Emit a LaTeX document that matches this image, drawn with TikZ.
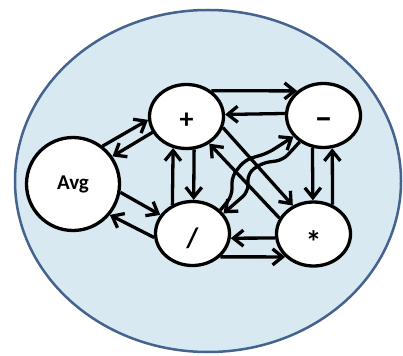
\documentclass[tikz,border=0pt]{standalone}
\usepackage{fontspec}
\setmainfont{Carlito}
\usetikzlibrary{arrows.meta,shapes.geometric}
\definecolor{bgblue}{HTML}{D8E9F2}
\definecolor{rimblue}{HTML}{44638F}
\begin{document}
\begin{tikzpicture}[x=1pt,y=-1pt,
  op/.style={ellipse,draw=black,fill=white,line width=3.3pt,inner sep=0pt,
    minimum width=74pt,minimum height=64pt,text depth=0pt,
    font=\fontsize{28}{28}\selectfont\bfseries},
  link/.style={line width=3.3pt,-{Straight Barb[length=10pt,width=16pt]}},
  wiggle/.style={link,rounded corners=7pt}]
\useasboundingbox (0,0) rectangle (403,355);
\fill[white] (0,0) rectangle (403,355);
\draw[draw=rimblue,fill=bgblue,line width=2.5pt] (208,181) ellipse [x radius=193, y radius=171];

\node[op,minimum width=93pt,minimum height=93pt,text depth=,text height=,
  font=\fontsize{21}{21}\selectfont\bfseries] (avg) at (73,184) {Avg};
\node[op,text height=25pt] (plus) at (186.5,116.5) {+};
\node[op,text height=28pt,font=\fontsize{36}{36}\selectfont\bfseries] (minus) at (323.5,115.5) {–};
\node[op,text height=27pt] (div) at (192.5,233.5) {/};
\node[op,text height=38pt,font=\fontsize{32}{32}\selectfont\bfseries] (mul) at (313.5,234) {*};

% Avg <-> +
\draw[link] (avg.52) -- (plus.185);
\draw[link] (plus.205) -- (avg.35);
% Avg <-> /
\draw[link] (avg.-10) -- (div.150);
\draw[link] (div.186) -- (avg.-40);
% + <-> /
\draw[link] (div.125) -- (plus.247);
\draw[link] (plus.283) -- (div.88);
% + <-> -
\draw[link] (plus.46) -- (minus.137);
\draw[link] (minus.177) -- (plus.3);
% - <-> *
\draw[link] (minus.251) -- (mul.91);
\draw[link] (mul.57) -- (minus.285);
% / <-> *
\draw[link] (mul.186) -- (div.-7);
\draw[link] (div.-40) -- (mul.219);
% diagonals
\draw[link] (plus.-17) -- (mul.126);
\draw[link] (mul.155) -- (plus.-50);
% curved
\draw[wiggle] (div.40) -- (232,196) -- (232,176) -- (245,160) -- (268,153) -- (minus.215);
\draw[wiggle] (minus.228) -- (283,160) -- (262,163) -- (248,173) -- (248,192) -- (div.33);
\end{tikzpicture}
\end{document}
